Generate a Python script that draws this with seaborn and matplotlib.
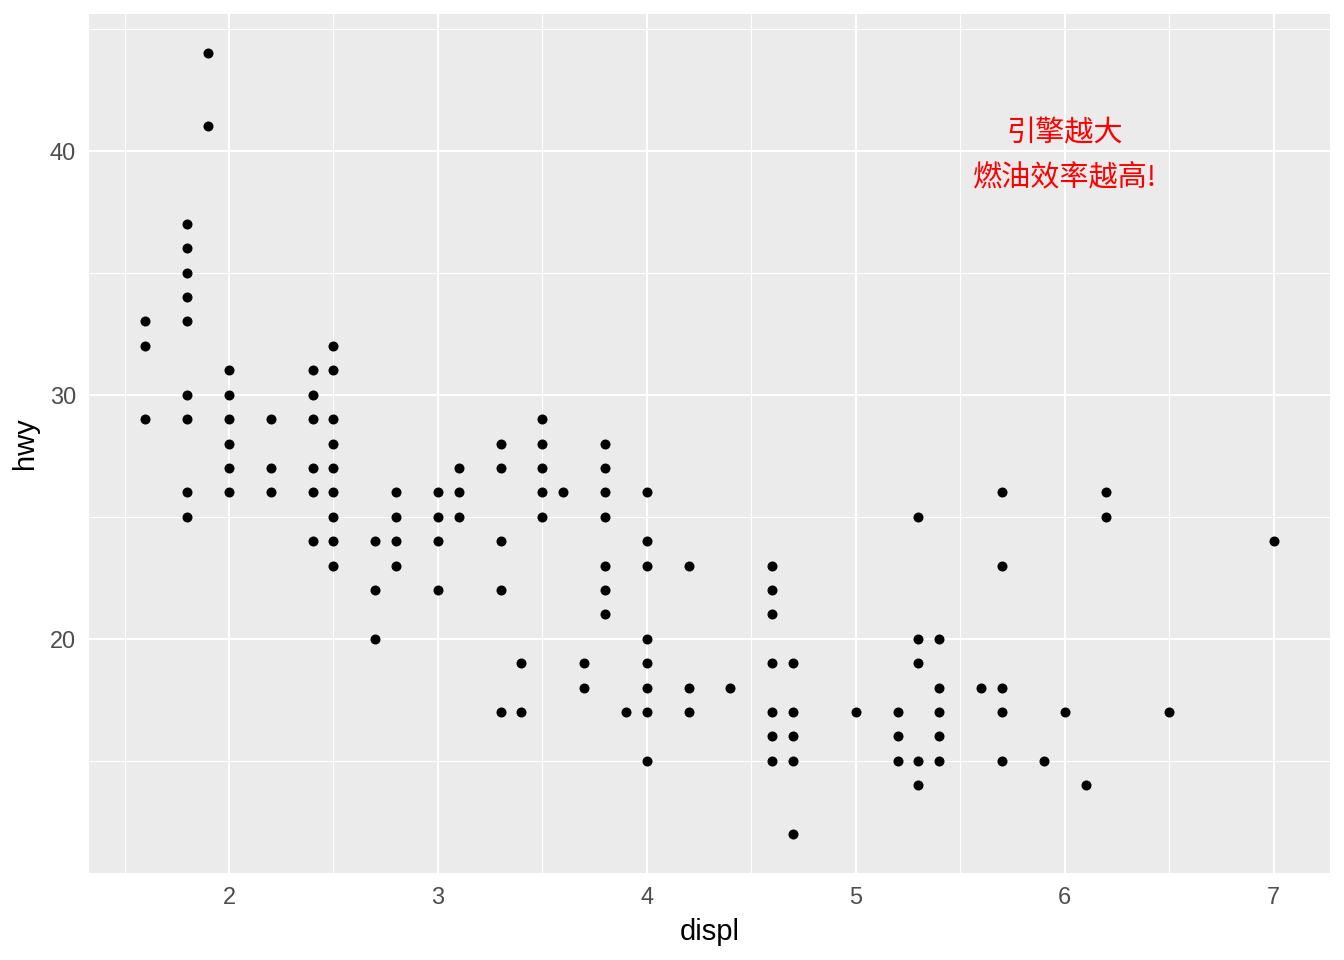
import matplotlib
matplotlib.use("Agg")
import matplotlib.pyplot as plt
import seaborn as sns
import pandas as pd

# data: (displ, list of hwy values)
displ_groups = [1.6, 1.8, 1.9, 2.0, 2.2, 2.4, 2.5, 2.7, 2.8, 3.0, 3.1, 3.3, 3.4,
                3.5, 3.6, 3.7, 3.8, 3.9, 4.0, 4.2, 4.4, 4.6, 4.7, 5.0, 5.2, 5.3,
                5.4, 5.6, 5.7, 5.9, 6.0, 6.1, 6.2, 6.5, 7.0]
hwy_groups = [
    [33, 32, 29],
    [37, 36, 35, 34, 33, 30, 29, 26, 25],
    [44, 41],
    [31, 30, 29, 28, 27, 26],
    [29, 27, 26],
    [31, 30, 29, 27, 26, 24],
    [32, 31, 29, 28, 27, 26, 25, 24, 23],
    [24, 22, 20],
    [26, 25, 24, 23],
    [26, 25, 24, 22],
    [27, 26, 25],
    [28, 27, 24, 22, 17],
    [19, 17],
    [29, 28, 27, 26, 25],
    [26],
    [19, 18],
    [28, 27, 26, 25, 23, 22, 21],
    [17],
    [26, 24, 23, 20, 19, 18, 17, 15],
    [23, 18, 17],
    [18],
    [23, 22, 21, 19, 17, 16, 15],
    [19, 17, 16, 15, 12],
    [17],
    [17, 16, 15],
    [25, 20, 19, 15, 14],
    [20, 18, 17, 16, 15],
    [18],
    [26, 23, 18, 17, 15],
    [15],
    [17],
    [14],
    [26, 25],
    [17],
    [24],
]
x_ticks = [2, 3, 4, 5, 6, 7]
y_ticks = [20, 30, 40]
x_minor = [1.5, 2.5, 3.5, 4.5, 5.5, 6.5]
y_minor = [15, 25, 35, 45]
x_label = "displ"
y_label = "hwy"
note_text = "引擎越大\n燃油效率越高!"
note_x, note_y = 6.0, 39.8

displ = []
hwy = []
for d, hs in zip(displ_groups, hwy_groups):
    for h in hs:
        displ.append(d)
        hwy.append(h)
df = pd.DataFrame({"displ": displ, "hwy": hwy})

sns.set_theme(style="darkgrid")
plt.rcParams["font.family"] = ["Liberation Sans", "DejaVu Sans"]

fig = plt.figure(figsize=(13.44, 9.6), dpi=100)
ax = fig.add_axes([89 / 1344, 1 - 873 / 960, (1330 - 89) / 1344, (873 - 14) / 960])
ax.set_facecolor("#EBEBEB")

sns.scatterplot(data=df, x="displ", y="hwy", ax=ax, color="black", s=52,
                linewidth=0, zorder=3)

ax.set_xticks(x_ticks)
ax.set_yticks(y_ticks)
ax.set_xticks(x_minor, minor=True)
ax.set_yticks(y_minor, minor=True)

xr = max(displ) - min(displ)
yr = max(hwy) - min(hwy)
ax.set_xlim(min(displ) - 0.05 * xr, max(displ) + 0.05 * xr)
ax.set_ylim(min(hwy) - 0.05 * yr, max(hwy) + 0.05 * yr)

ax.grid(which="major", color="white", linewidth=1.45)
ax.grid(which="minor", color="white", linewidth=0.72)
ax.set_axisbelow(True)
for s in ax.spines.values():
    s.set_visible(False)

ax.tick_params(axis="both", which="major", length=5.3, width=1.0, color="#333333",
               labelsize=16.9, labelcolor="#4D4D4D", pad=4.2)
ax.tick_params(axis="both", which="minor", length=0)

ax.set_xlabel(x_label, fontsize=21, color="black", labelpad=6)
ax.set_ylabel(y_label, fontsize=21, color="black", labelpad=8)

ax.text(note_x, note_y, note_text, color="red", fontsize=21, ha="center",
        va="center", linespacing=1.6,
        family=["Noto Sans CJK SC", "DejaVu Sans"], zorder=4)

fig.savefig("out.png", dpi=100, facecolor="white")
